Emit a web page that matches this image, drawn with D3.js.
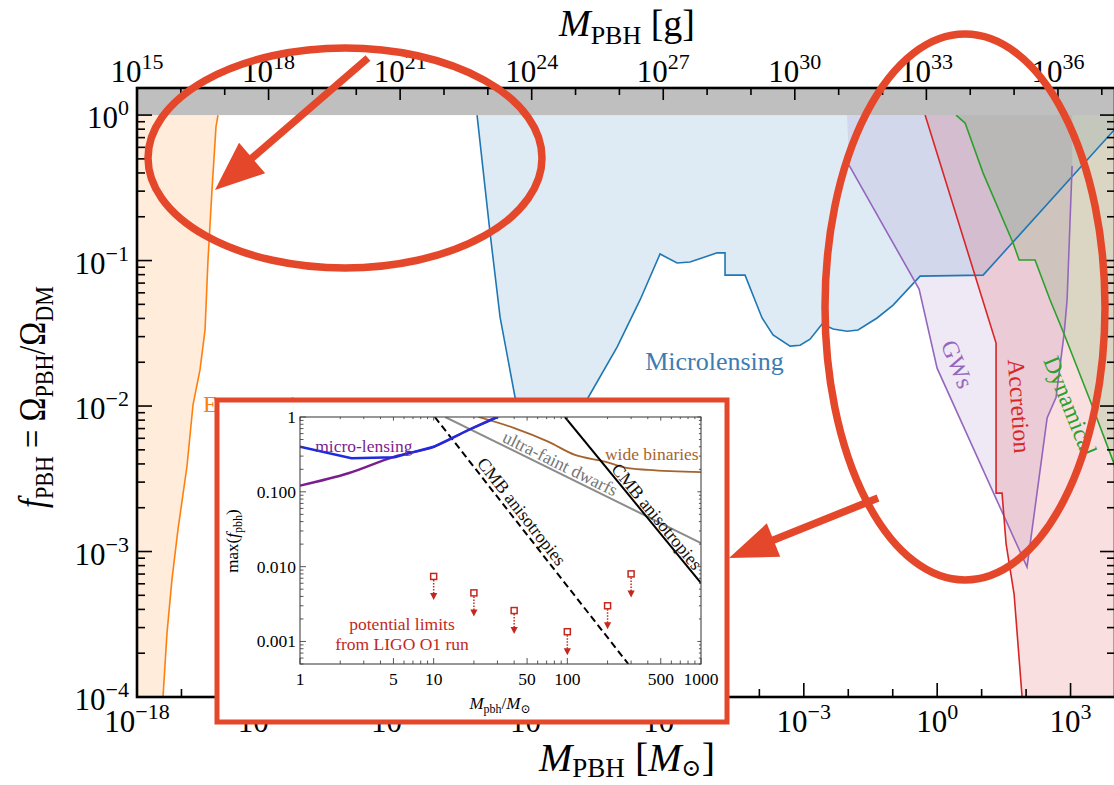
<!DOCTYPE html>
<html>
<head>
<meta charset="utf-8">
<script src="https://cdn.jsdelivr.net/npm/d3@7"></script>
<style>
  body { margin: 0; background: #fff; }
  svg { display: block; font-family: "Liberation Serif", "DejaVu Serif", serif; }
</style>
</head>
<body>
<svg id="chart" width="1114" height="785"></svg>
<script>
// main panel: [M_PBH in solar masses, f_PBH]
const evaporation = [
    [6.64e-17, 1], [5.98e-17, 0.83], [4.86e-17, 0.305], [3.95e-17, 0.1], [3.39e-17, 0.0333],
    [2.61e-17, 0.0177], [1.82e-17, 0.0102], [1.33e-17, 0.00384], [8.36e-18, 0.00142],
    [6.12e-18, 6.43e-4], [4.73e-18, 2.75e-4], [3.85e-18, 1e-4]
];
const microlensing = [
    [4.46e-11, 1], [8.75e-11, 0.155], [1.47e-10, 0.0409], [3.19e-10, 0.0115], [9.0e-10, 0.0058],
    [3.3e-9, 0.0054], [1.40e-8, 0.0114], [6.30e-8, 0.0254], [2.07e-7, 0.0536], [5.83e-7, 0.111],
    [1.41e-6, 0.0962], [2.76e-6, 0.0977], [1.12e-5, 0.113], [1.69e-5, 0.113], [1.69e-5, 0.0794],
    [4.76e-5, 0.0794], [1.15e-4, 0.0403], [2.03e-4, 0.0308], [4.91e-4, 0.0258], [8.24e-4, 0.0262],
    [1.38e-3, 0.0288], [2.58e-3, 0.0366], [4.55e-3, 0.0338], [9.40e-3, 0.0327], [1.66e-2, 0.0333],
    [4.45e-2, 0.0403], [0.102, 0.0494], [0.412, 0.0782], [10.8, 0.0794], [9550, 0.789], [1e4, 0.80]
];
const gwsEdge = [
    [1.04e-2, 0.453], [0.392, 0.0637], [0.995, 0.0182], [105, 7.82e-4], [297, 0.00827],
    [473, 0.0115], [716, 0.0313], [836, 0.0535], [1084, 0.446]
];
const gwsTopLeft = 9.4e-3;
const accretion = [
    [0.535, 1], [21.1, 0.0271], [21.1, 0.00252], [28.8, 0.00252], [35.5, 0.00113],
    [53.7, 5.1e-4], [81.3, 1e-4]
];
const dynamical = [
    [2.66, 1], [4.25, 0.881], [10.8, 0.399], [51.0, 0.132], [69.7, 0.101], [159, 0.101],
    [347, 0.0535], [716, 0.0313], [2900, 0.0105], [9550, 0.004], [1e4, 0.0037]
];

// tick exponents
const bottomExps = [-18, -15, -12, -9, -6, -3, 0, 3];
const topExps = [15, 18, 21, 24, 27, 30, 33, 36];
const leftExps = [0, -1, -2, -3, -4];

// inset: [M_pbh / M_sun, max f_pbh]
const insetMicroBlue = [[1, 0.40], [2.43, 0.281], [5.1, 0.290], [7.24, 0.345], [10, 0.40], [18.2, 0.671], [30.4, 1.0]];
const insetMicroPurple = [[1, 0.121], [2.3, 0.177], [5.1, 0.296], [10, 0.40], [18.2, 0.671], [29.6, 1.0]];
const wideBinaries = [[21.6, 1], [40.6, 0.706], [71.9, 0.469], [114, 0.311], [191, 0.254], [270, 0.211], [403, 0.196], [1000, 0.183]];
const ultraFaint = [[12.2, 1], [1000, 0.0207]];
const cmbDashed = [[10.2, 1], [286, 5.0e-4]];
const cmbSolid = [[95.9, 1], [1000, 0.00603]];
const ligoLimits = [[10, 0.0074], [20, 0.00446], [40, 0.00259], [100, 0.00135], [200, 0.0030], [300, 0.0080]];
const insetXTicks = [1, 5, 10, 50, 100, 500, 1000];
const insetYTicks = [0.001, 0.01, 0.1, 1];
const insetYLabels = ["0.001", "0.010", "0.100", "1"];

const C = {
    orange: "#ff7f0e", blue: "#1f77b4", green: "#2ca02c", red: "#d62728", purple: "#9467bd",
    mark: "#e5472a", ligo: "#c4281d"
};

const svg = d3.select("#chart");
const defs = svg.append("defs");

const x = d3.scaleLog().domain([1e-18, 1e4]).range([137, 1115]);
const xg = d3.scaleLog().domain([1e15, 2e37]).range([137, 1115]);
const y = d3.scaleLog().domain([1e-4, 1.535]).range([697, 88]);
const [L, R] = x.range();
const [B, T] = y.range();

defs.append("clipPath").attr("id", "plotClip")
    .append("rect").attr("x", L).attr("y", T).attr("width", R - L).attr("height", B - T);

const plot = svg.append("g").attr("clip-path", "url(#plotClip)");
const line = d3.line().x(d => x(d[0])).y(d => y(d[1]));
const fillOp = 0.15;

// shaded regions
plot.append("path").datum(evaporation)
    .attr("d", d3.area().y(d => y(d[1])).x0(L).x1(d => x(d[0])))
    .attr("fill", C.orange).attr("fill-opacity", fillOp);
plot.append("path").datum(microlensing)
    .attr("d", d3.area().x(d => x(d[0])).y0(d => y(d[1])).y1(T))
    .attr("fill", C.blue).attr("fill-opacity", fillOp);
plot.append("path").datum([[gwsTopLeft, 1], ...gwsEdge, [gwsEdge[gwsEdge.length - 1][0], 1]])
    .attr("d", d => line(d) + "Z")
    .attr("fill", C.purple).attr("fill-opacity", fillOp);
plot.append("path").datum(accretion)
    .attr("d", d3.area().y(d => y(d[1])).x0(d => x(d[0])).x1(R))
    .attr("fill", C.red).attr("fill-opacity", fillOp);
plot.append("path").datum(dynamical)
    .attr("d", d3.area().x(d => x(d[0])).y0(d => y(d[1])).y1(T))
    .attr("fill", C.green).attr("fill-opacity", fillOp);

// boundary lines
[[evaporation, C.orange], [microlensing, C.blue], [gwsEdge, C.purple],
 [accretion, C.red], [dynamical, C.green]].forEach(([d, c]) => {
    plot.append("path").datum(d).attr("d", line)
        .attr("fill", "none").attr("stroke", c).attr("stroke-width", 1.6);
});

// region labels
plot.append("text").attr("x", x(3.05e-17)).attr("y", y(0.0091))
    .attr("font-size", 24).attr("fill", C.orange).text("Evaporation");
plot.append("text").attr("x", x(2.7e-7)).attr("y", y(0.0177))
    .attr("font-size", 26).attr("fill", "#3c7db4").text("Microlensing");
[["GWs", 2.8, 0.0194, 68, C.purple], ["Accretion", 69.7, 0.01, 86, C.red],
 ["Dynamical", 977, 0.01, 68, C.green]].forEach(([t, m, f, a, c]) => {
    plot.append("text")
        .attr("transform", `translate(${x(m)},${y(f)}) rotate(${a})`)
        .attr("text-anchor", "middle").attr("dy", 8)
        .attr("font-size", 24).attr("fill", c).text(t);
});

// grey band above f = 1
svg.append("rect").attr("x", L).attr("y", T).attr("width", R - L).attr("height", y(1) - T)
    .attr("fill", "#bfbfbf");

// ticks
const ticks = svg.append("g").attr("stroke", "#000").attr("stroke-width", 1.6);
d3.range(-18, 5).forEach(e => {
    const major = e % 3 === 0;
    ticks.append("line").attr("x1", x(10 ** e)).attr("x2", x(10 ** e))
        .attr("y1", B).attr("y2", B - (major ? 14 : 8));
});
d3.range(15, 38).forEach(e => {
    const major = e % 3 === 0;
    ticks.append("line").attr("x1", xg(10 ** e)).attr("x2", xg(10 ** e))
        .attr("y1", T).attr("y2", T + (major ? 12 : 7));
});
y.ticks().filter(v => v <= 1.0001).forEach(v => {
    const major = Math.abs(Math.log10(v) - Math.round(Math.log10(v))) < 1e-6;
    const len = major ? 15 : 8;
    ticks.append("line").attr("x1", L).attr("x2", L + len).attr("y1", y(v)).attr("y2", y(v));
    ticks.append("line").attr("x1", R).attr("x2", R - len).attr("y1", y(v)).attr("y2", y(v));
});

// frame
svg.append("rect").attr("x", L).attr("y", T).attr("width", R - L).attr("height", B - T)
    .attr("fill", "none").attr("stroke", "#000").attr("stroke-width", 2.6);

// tick labels
function addPow(text, exp, supSize, rise) {
    text.append("tspan").text("10");
    text.append("tspan").attr("font-size", supSize).attr("dy", -rise)
        .text(exp < 0 ? "\u2212" + (-exp) : String(exp));
}
svg.append("g").attr("font-size", 31).attr("text-anchor", "middle")
    .selectAll("text").data(bottomExps).join("text")
    .attr("x", e => x(10 ** e)).attr("y", 732)
    .each(function (e) { addPow(d3.select(this), e, 22, 13); });
svg.append("g").attr("font-size", 31).attr("text-anchor", "middle")
    .selectAll("text").data(topExps).join("text")
    .attr("x", e => xg(10 ** e)).attr("y", 82)
    .each(function (e) { addPow(d3.select(this), e, 22, 13); });
svg.append("g").attr("font-size", 31).attr("text-anchor", "end")
    .selectAll("text").data(leftExps).join("text")
    .attr("x", 129).attr("y", e => y(10 ** e) + 13)
    .each(function (e) { addPow(d3.select(this), e, 22, 13); });

// axis titles
function subLabel(text, parts) {
    parts.forEach(p => {
        const t = text.append("tspan").text(p.t);
        if (p.i) t.attr("font-style", "italic");
        if (p.fs) t.attr("font-size", p.fs);
        if (p.dy) t.attr("dy", p.dy);
    });
    return text;
}
subLabel(svg.append("text").attr("x", 627).attr("y", 36).attr("text-anchor", "middle").attr("font-size", 38),
    [{ t: "M", i: true }, { t: "PBH", fs: 26, dy: 8 }, { t: " [g]", dy: -8 }]);
subLabel(svg.append("text").attr("x", 627).attr("y", 771).attr("text-anchor", "middle").attr("font-size", 40),
    [{ t: "M", i: true }, { t: "PBH", fs: 27, dy: 6 }, { t: " [", dy: -6 }, { t: "M", i: true },
     { t: "\u2299", fs: 24, dy: 5 }, { t: "]", dy: -5 }]);
subLabel(svg.append("text").attr("transform", "translate(45,397) rotate(-90) scale(0.85,1)")
        .attr("text-anchor", "middle").attr("font-size", 38),
    [{ t: "f", i: true }, { t: "PBH", fs: 26, dy: 8 }, { t: " = \u03A9", dy: -8 },
     { t: "PBH", fs: 26, dy: 8 }, { t: "/\u03A9", dy: -8 }, { t: "DM", fs: 26, dy: 8 }]);

// ---------- inset ----------
const inset = svg.append("g");
inset.append("rect").attr("x", 217).attr("y", 400).attr("width", 510).attr("height", 322)
    .attr("fill", "#fff").attr("stroke", C.mark).attr("stroke-width", 5);

const ix = d3.scaleLog().domain([1, 1000]).range([300, 701]);
const iy = d3.scaleLog().domain([5.0e-4, 1]).range([664, 417]);
const [iL, iR] = ix.range();
const [iB, iT] = iy.range();
defs.append("clipPath").attr("id", "insetClip")
    .append("rect").attr("x", iL).attr("y", iT).attr("width", iR - iL).attr("height", iB - iT);
const iplot = inset.append("g").attr("clip-path", "url(#insetClip)");
const iline = d3.line().x(d => ix(d[0])).y(d => iy(d[1]));
const ismooth = d3.line().x(d => ix(d[0])).y(d => iy(d[1])).curve(d3.curveMonotoneX);

iplot.append("path").datum(wideBinaries).attr("d", ismooth)
    .attr("fill", "none").attr("stroke", "#a5642e").attr("stroke-width", 1.8);
iplot.append("path").datum(ultraFaint).attr("d", iline)
    .attr("fill", "none").attr("stroke", "#8c8c8c").attr("stroke-width", 2);
iplot.append("path").datum(cmbDashed).attr("d", iline)
    .attr("fill", "none").attr("stroke", "#000").attr("stroke-width", 2).attr("stroke-dasharray", "7,4");
iplot.append("path").datum(cmbSolid).attr("d", iline)
    .attr("fill", "none").attr("stroke", "#000").attr("stroke-width", 2);
iplot.append("path").datum(insetMicroPurple).attr("d", ismooth)
    .attr("fill", "none").attr("stroke", "#7a1e8e").attr("stroke-width", 2.4);
iplot.append("path").datum(insetMicroBlue).attr("d", iline)
    .attr("fill", "none").attr("stroke", "#1e2be0").attr("stroke-width", 2.4);

// LIGO potential limits
const ligo = iplot.append("g").selectAll("g").data(ligoLimits).join("g")
    .attr("transform", d => `translate(${ix(d[0])},${iy(d[1])})`);
ligo.append("line").attr("x1", 0).attr("x2", 0).attr("y1", 3.5).attr("y2", 17)
    .attr("stroke", C.ligo).attr("stroke-width", 1.5).attr("stroke-dasharray", "1.5,1.5");
ligo.append("rect").attr("x", -3).attr("y", -3).attr("width", 6).attr("height", 6)
    .attr("fill", "#fff").attr("stroke", C.ligo).attr("stroke-width", 1.5);
ligo.append("path").attr("d", "M-3.6,16.5 L3.6,16.5 L0,23.5 Z").attr("fill", C.ligo);

// rotated line labels
function lineLabel(pts, t, dy, text, color) {
    const p0 = [ix(pts[0][0]), iy(pts[0][1])], p1 = [ix(pts[1][0]), iy(pts[1][1])];
    const px = p0[0] + t * (p1[0] - p0[0]), py = p0[1] + t * (p1[1] - p0[1]);
    const a = Math.atan2(p1[1] - p0[1], p1[0] - p0[0]) * 180 / Math.PI;
    inset.append("text").attr("transform", `translate(${px},${py}) rotate(${a})`)
        .attr("dy", dy).attr("text-anchor", "middle").attr("font-size", 18)
        .attr("fill", color).text(text);
}
lineLabel(ultraFaint, 0.434, -3, "ultra-faint dwarfs", "#777");
lineLabel(cmbDashed, 0.408, -4, "CMB anisotropies", "#111");
lineLabel(cmbSolid, 0.63, -2, "CMB anisotropies", "#111");

inset.append("text").attr("x", ix(1.3)).attr("y", iy(0.34)).attr("font-size", 17.5)
    .attr("fill", "#7a1e8e").text("micro-lensing");
inset.append("text").attr("x", ix(191)).attr("y", iy(0.267)).attr("font-size", 17.5)
    .attr("fill", "#a5642e").text("wide binaries");
inset.append("text").attr("x", 402).attr("y", 630).attr("text-anchor", "middle")
    .attr("font-size", 17.5).attr("fill", C.ligo).text("potential limits");
inset.append("text").attr("x", 402).attr("y", 650).attr("text-anchor", "middle")
    .attr("font-size", 17.5).attr("fill", C.ligo).text("from LIGO O1 run");

// inset frame and ticks
inset.append("rect").attr("x", iL).attr("y", iT).attr("width", iR - iL).attr("height", iB - iT)
    .attr("fill", "none").attr("stroke", "#444").attr("stroke-width", 1.1);
const iticks = inset.append("g").attr("stroke", "#444").attr("stroke-width", 0.9);
ix.ticks().forEach(v => {
    const major = insetXTicks.includes(v) ? 6 : 3.5;
    iticks.append("line").attr("x1", ix(v)).attr("x2", ix(v)).attr("y1", iB).attr("y2", iB - major);
    iticks.append("line").attr("x1", ix(v)).attr("x2", ix(v)).attr("y1", iT).attr("y2", iT + major * 0.6);
});
iy.ticks().forEach(v => {
    const major = insetYTicks.some(t => Math.abs(t - v) < 1e-9) ? 6 : 3.5;
    iticks.append("line").attr("x1", iL).attr("x2", iL + major).attr("y1", iy(v)).attr("y2", iy(v));
    iticks.append("line").attr("x1", iR).attr("x2", iR - major * 0.6).attr("y1", iy(v)).attr("y2", iy(v));
});
inset.append("g").attr("font-size", 17.5).attr("text-anchor", "middle")
    .selectAll("text").data(insetXTicks).join("text")
    .attr("x", d => ix(d)).attr("y", 685).text(d => d);
inset.append("g").attr("font-size", 17.5).attr("text-anchor", "end")
    .selectAll("text").data(insetYTicks).join("text")
    .attr("x", 296).attr("y", d => iy(d) + 6).text((d, i) => insetYLabels[i]);
subLabel(inset.append("text").attr("x", 500).attr("y", 709).attr("text-anchor", "middle").attr("font-size", 17),
    [{ t: "M", i: true }, { t: "pbh", fs: 12, dy: 4 }, { t: "/", dy: -4 }, { t: "M", i: true },
     { t: "\u2299", fs: 12, dy: 4 }]);
subLabel(inset.append("text").attr("transform", "translate(238,541) rotate(-90)")
        .attr("text-anchor", "middle").attr("font-size", 17),
    [{ t: "max(" }, { t: "f", i: true }, { t: "pbh", fs: 12, dy: 4 }, { t: ")", dy: -4 }]);

// ---------- hand-drawn annotations ----------
const marks = svg.append("g").attr("stroke", C.mark).attr("fill", "none").attr("stroke-width", 7.5);
marks.append("ellipse").attr("cx", 345).attr("cy", 158).attr("rx", 197).attr("ry", 110);
marks.append("ellipse").attr("cx", 965).attr("cy", 307).attr("rx", 140).attr("ry", 273);

function arrow(tail, tip, headLen, headHalf) {
    const dx = tip[0] - tail[0], dy = tip[1] - tail[1];
    const len = Math.hypot(dx, dy), ux = dx / len, uy = dy / len;
    const bx = tip[0] - ux * headLen, by = tip[1] - uy * headLen;
    marks.append("line").attr("x1", tail[0]).attr("y1", tail[1])
        .attr("x2", bx + ux * 4).attr("y2", by + uy * 4);
    svg.append("path")
        .attr("d", `M${tip[0]},${tip[1]} L${bx - uy * headHalf},${by + ux * headHalf} L${bx + uy * headHalf},${by - ux * headHalf} Z`)
        .attr("fill", C.mark);
}
arrow([368, 58], [215, 190], 49, 20);
arrow([878, 498], [729, 558], 48, 18);
</script>
</body>
</html>
